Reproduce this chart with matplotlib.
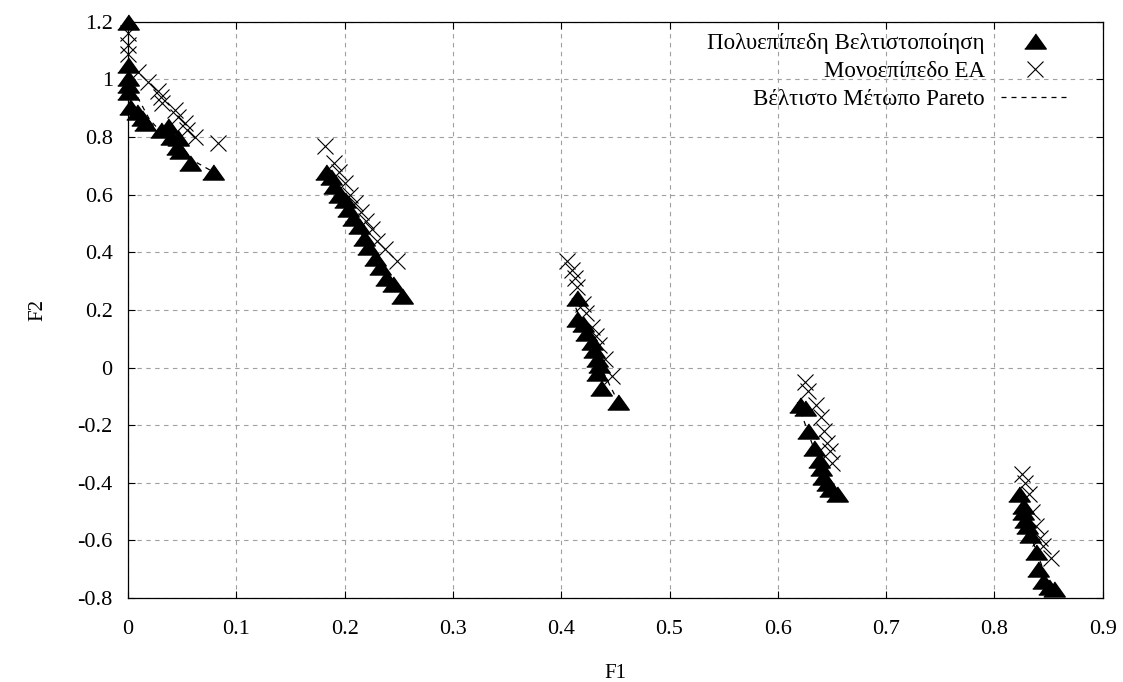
import numpy as np
import matplotlib
matplotlib.use("Agg")
import matplotlib.pyplot as plt

plt.rcParams['font.family'] = ['Liberation Serif', 'DejaVu Serif']

# Πολυεπίπεδη Βελτιστοποίηση (triangles)
multi_f1 = [0.0, 0.0, 0.0, 0.0, 0.0, 0.002, 0.008, 0.013, 0.016, 0.03, 0.037,
            0.04, 0.046, 0.045, 0.048, 0.057, 0.078,
            0.183, 0.187, 0.19, 0.195, 0.20, 0.203, 0.208, 0.213, 0.218,
            0.222, 0.228, 0.233, 0.238, 0.245, 0.253,
            0.415, 0.415, 0.42, 0.423, 0.428, 0.43, 0.433, 0.435, 0.433,
            0.437, 0.452,
            0.62, 0.625, 0.628, 0.633, 0.638, 0.64, 0.642, 0.645, 0.648, 0.655,
            0.823, 0.826, 0.826, 0.828, 0.83, 0.833, 0.838, 0.84, 0.845,
            0.85, 0.855]
multi_f2 = [1.2, 1.05, 1.006, 0.98, 0.957, 0.905, 0.887, 0.867, 0.85, 0.825,
            0.84, 0.80, 0.797, 0.766, 0.75, 0.71, 0.68,
            0.68, 0.66, 0.63, 0.60, 0.58, 0.55, 0.52, 0.49, 0.45,
            0.42, 0.38, 0.35, 0.31, 0.29, 0.25,
            0.24, 0.17, 0.15, 0.12, 0.09, 0.06, 0.03, 0.01, -0.02,
            -0.07, -0.12,
            -0.13, -0.14, -0.22, -0.28, -0.32, -0.35, -0.38, -0.40, -0.42,
            -0.44,
            -0.44, -0.48, -0.50, -0.53, -0.55, -0.58, -0.64, -0.70, -0.74,
            -0.76, -0.77]

# Μονοεπίπεδο EA (crosses)
single_f1 = [0.0, 0.0, 0.0, 0.009, 0.018, 0.028, 0.03, 0.031, 0.043, 0.046,
             0.053, 0.054, 0.062, 0.083,
             0.182, 0.19, 0.195, 0.2, 0.205, 0.21, 0.215, 0.22, 0.225, 0.23,
             0.237, 0.248,
             0.405, 0.41, 0.413, 0.415, 0.42, 0.423, 0.428, 0.432, 0.435,
             0.44, 0.447,
             0.625, 0.628, 0.635, 0.64, 0.643, 0.645, 0.648, 0.65,
             0.825, 0.828, 0.832, 0.835, 0.838, 0.842, 0.845, 0.852]
single_f2 = [1.16, 1.12, 1.09, 1.026, 0.99, 0.96, 0.94, 0.92, 0.895, 0.87,
             0.85, 0.825, 0.80, 0.78,
             0.77, 0.71, 0.68, 0.64, 0.60, 0.57, 0.54, 0.51, 0.48, 0.44,
             0.41, 0.37,
             0.37, 0.34, 0.31, 0.28, 0.22, 0.19, 0.14, 0.11, 0.08,
             0.03, -0.03,
             -0.05, -0.08, -0.13, -0.17, -0.22, -0.26, -0.29, -0.33,
             -0.37, -0.40, -0.44, -0.50, -0.55, -0.59, -0.62, -0.66]

# Βέλτιστο Μέτωπο Pareto (segments separated by nan)
pareto_f1 = [0.0, 0.02, 0.05, 0.083, np.nan,
             0.182, 0.2, 0.22, 0.257, np.nan,
             0.41, 0.43, 0.454, np.nan,
             0.618, 0.635, 0.652, np.nan,
             0.823, 0.835, 0.852]
pareto_f2 = [1.0, 0.86, 0.74, 0.67, np.nan,
             0.67, 0.58, 0.43, 0.24, np.nan,
             0.24, 0.05, -0.13, np.nan,
             -0.12, -0.30, -0.45, np.nan,
             -0.44, -0.60, -0.77]

labels = ['Πολυεπίπεδη Βελτιστοποίηση', 'Μονοεπίπεδο EA',
          'Βέλτιστο Μέτωπο Pareto']

fig = plt.figure(figsize=(11.23, 6.82), dpi=100)
ax = fig.add_axes([0.114, 0.123, 0.868, 0.845])

tri = [(-1, -0.7), (1, -0.7), (0, 0.7)]
ax.plot(pareto_f1, pareto_f2, color='black', linestyle=(0, (4, 4)),
        linewidth=0.9, label=labels[2], zorder=2)
ax.plot(multi_f1, multi_f2, linestyle='none', marker=tri, markersize=15.5,
        color='black', label=labels[0], zorder=3, clip_on=False)
ax.plot(single_f1, single_f2, linestyle='none', marker='x', markersize=11,
        markeredgewidth=0.8, color='black', label=labels[1], zorder=4,
        clip_on=False)

ax.set_xlim(0, 0.9)
ax.set_ylim(-0.8, 1.2)
ax.set_xticks(np.arange(0, 0.91, 0.1))
ax.set_yticks(np.arange(-0.8, 1.21, 0.2))
ax.set_xticklabels(['0', '0.1', '0.2', '0.3', '0.4', '0.5', '0.6', '0.7',
                    '0.8', '0.9'])
ax.set_yticklabels(['-0.8', '-0.6', '-0.4', '-0.2', '0', '0.2', '0.4',
                    '0.6', '0.8', '1', '1.2'])
ax.tick_params(direction='in', top=True, right=True, labelsize=16,
               length=5, width=0.8)
ax.tick_params(axis='x', pad=16)
ax.tick_params(axis='y', pad=11)
ax.grid(True, color='#a0a0a0', linestyle=(0, (4, 4)), linewidth=0.8)
ax.set_axisbelow(True)
for s in ax.spines.values():
    s.set_linewidth(0.9)

ax.set_xlabel('F1', fontsize=15, labelpad=18)
ax.set_ylabel('F2', fontsize=15, labelpad=22)

h, l = ax.get_legend_handles_labels()
order = [1, 2, 0]
ax.legend([h[i] for i in order], [l[i] for i in order], loc='upper right',
          bbox_to_anchor=(0.966, 0.98), borderpad=0, borderaxespad=0,
          frameon=False, markerfirst=False, fontsize=16.5, handlelength=3,
          handletextpad=0.7, labelspacing=0.3)

fig.savefig('out.png', dpi=100)
